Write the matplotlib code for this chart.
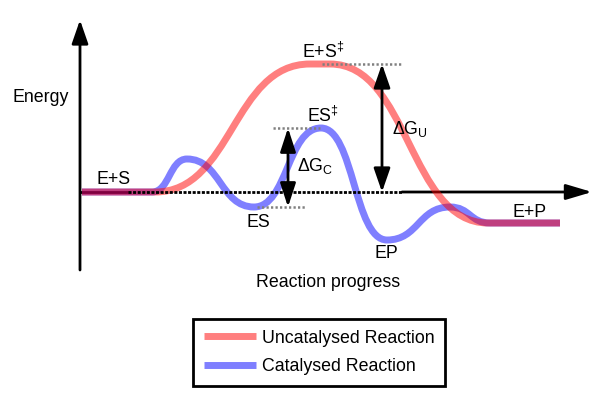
import matplotlib
matplotlib.use('Agg')
import matplotlib.pyplot as plt
from matplotlib.path import Path
from matplotlib.patches import PathPatch, FancyArrowPatch
from matplotlib.lines import Line2D

plt.rcParams['font.family'] = ['Liberation Sans', 'DejaVu Sans']
plt.rcParams['mathtext.fontset'] = 'custom'
plt.rcParams['mathtext.rm'] = 'Liberation Sans'
plt.rcParams['mathtext.default'] = 'regular'

# key points of the energy profiles (reaction progress, energy); E+S level = 0
uncat_x = [2, 75, 230, 250, 408, 480]
uncat_y = [0, 0, 128, 128, -31, -31]
cat_x = [2, 72, 107, 174, 241, 307, 370, 410, 480]
cat_y = [0, 0, 33, -15, 64, -48, -15, -31, -31]

# energy levels used for the guides and arrows
ts_uncat = 128   # E+S‡
ts_cat = 64      # ES‡
es_level = -15   # ES

# state labels: text, progress, energy (baseline)
labels = ['E+S', 'E+S$^{‡}$', 'ES$^{‡}$', 'ES', 'EP', 'E+P', 'ΔG$_U$', 'ΔG$_C$']
label_x = [17, 222, 227, 167, 295, 433, 312, 217]
label_y = [8, 134, 70, -35, -66, -25, 58, 21]

legend_names = ['Uncatalysed Reaction', 'Catalysed Reaction']
red = (1, 0, 0, 0.5)
blue = (0, 0, 1, 0.5)
fs = 12.8


def profile_path(xs, ys, k=0.5):
    # flat runs as straight lines, everything else as smooth S-shaped beziers
    verts = [(xs[0], ys[0])]
    codes = [Path.MOVETO]
    for x0, y0, x1, y1 in zip(xs, ys, xs[1:], ys[1:]):
        if y0 == y1:
            verts.append((x1, y1))
            codes.append(Path.LINETO)
        else:
            d = (x1 - x0) * k
            verts += [(x0 + d, y0), (x1 - d, y1), (x1, y1)]
            codes += [Path.CURVE4] * 3
    return Path(verts, codes)


fig = plt.figure(figsize=(6.1, 4.0), dpi=100)
ax = fig.add_axes([0, 0, 1, 1])
ax.set_xlim(-80, 530)
ax.set_ylim(-208, 192)
ax.axis('off')

# axes
ax.add_patch(FancyArrowPatch((0, -78), (0, 172), arrowstyle='-|>,head_length=1.44,head_width=0.5',
                             mutation_scale=10, lw=2, color='black', shrinkA=0, shrinkB=0, zorder=1))
ax.plot([0, 48], [0, 0], color='black', lw=2, zorder=1)
ax.add_patch(FancyArrowPatch((322, 0), (512, 0), arrowstyle='-|>,head_length=1.58,head_width=0.47',
                             mutation_scale=10, lw=2, color='black', shrinkA=0, shrinkB=0, zorder=1))

# profiles
ax.add_patch(PathPatch(profile_path(cat_x, cat_y), fill=False, edgecolor=blue, lw=5,
                       capstyle='butt', zorder=2))
ax.add_patch(PathPatch(profile_path(uncat_x, uncat_y), fill=False, edgecolor=red, lw=5,
                       capstyle='butt', zorder=3))

# dotted guides
ax.plot([48, 322], [0, 0], color='black', lw=2, dashes=(1.1, 0.55), zorder=4)
ax.plot([242, 322], [ts_uncat, ts_uncat], color='#808080', lw=1.8, dashes=(0.9, 0.9), zorder=4)
ax.plot([193, 240], [ts_cat, ts_cat], color='#808080', lw=1.8, dashes=(0.9, 0.9), zorder=4)
ax.plot([177, 225], [es_level, es_level], color='#808080', lw=1.8, dashes=(0.9, 0.9), zorder=4)

# activation energy arrows
ax.add_patch(FancyArrowPatch((302, 0), (302, ts_uncat), arrowstyle='<|-|>,head_length=1.44,head_width=0.5',
                             mutation_scale=10, lw=2, color='black', shrinkA=0, shrinkB=0, zorder=5))
ax.add_patch(FancyArrowPatch((208, es_level), (208, ts_cat), arrowstyle='<|-|>,head_length=1.44,head_width=0.47',
                             mutation_scale=10, lw=2, color='black', shrinkA=0, shrinkB=0, zorder=5))

for txt, x, y in zip(labels, label_x, label_y):
    ax.text(x, y, txt, fontsize=fs, ha='left', va='baseline', zorder=6)

ax.text(-67, 90, 'Energy', fontsize=fs, ha='left', va='baseline')
ax.text(248, -95, 'Reaction progress', fontsize=fs, ha='center', va='baseline')

handles = [Line2D([], [], color=red, lw=5, solid_capstyle='butt'),
           Line2D([], [], color=blue, lw=5, solid_capstyle='butt')]
leg = ax.legend(handles, legend_names, loc='upper left', bbox_to_anchor=(193 / 610, 1 - 319 / 400),
                borderaxespad=0, fontsize=fs, frameon=True, fancybox=False, framealpha=1,
                edgecolor='black', borderpad=0.6, handlelength=2.94, handletextpad=0.34,
                labelspacing=0.64)
leg.get_frame().set_linewidth(2)

fig.savefig('out.png', dpi=100)
